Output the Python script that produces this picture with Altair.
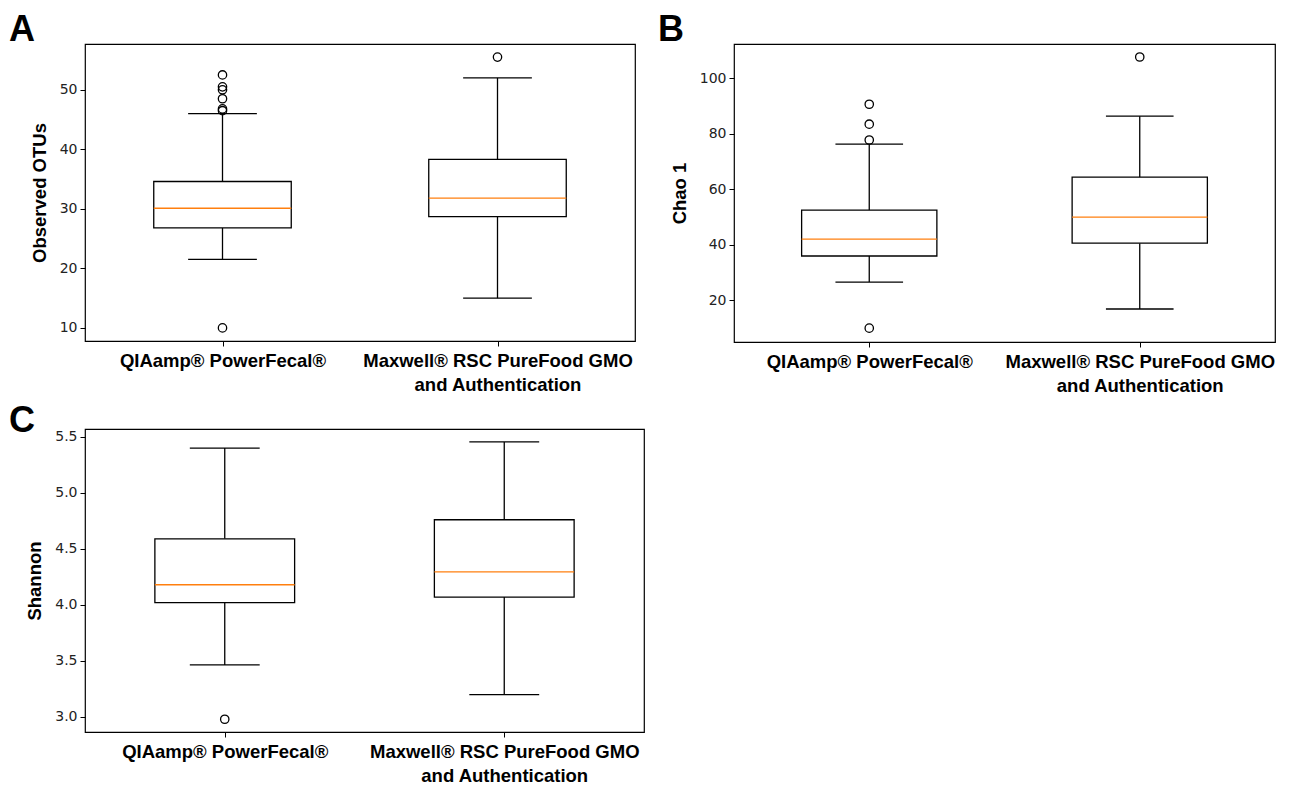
import altair as alt
import pandas as pd

groups = ["QIAamp® PowerFecal®", "Maxwell® RSC PureFood GMO and Authentication"]
positions = [1, 2]

# Panel A: Observed OTUs
otu_lo = [21.5, 15.0]
otu_q1 = [26.8, 28.7]
otu_med = [30.1, 31.8]
otu_q3 = [34.6, 38.3]
otu_hi = [46.0, 52.0]
otu_out_pos = [1, 1, 1, 1, 1, 1, 1, 2]
otu_out_val = [52.5, 50.5, 50.0, 48.5, 46.8, 46.5, 10.0, 55.5]

# Panel B: Chao 1
chao_lo = [26.5, 16.8]
chao_q1 = [35.9, 40.5]
chao_med = [42.0, 49.9]
chao_q3 = [52.4, 64.3]
chao_hi = [76.2, 86.3]
chao_out_pos = [1, 1, 1, 1, 2]
chao_out_val = [90.6, 83.4, 77.7, 9.9, 107.6]

# Panel C: Shannon
sh_lo = [3.465, 3.20]
sh_q1 = [4.02, 4.07]
sh_med = [4.18, 4.295]
sh_q3 = [4.59, 4.76]
sh_hi = [5.40, 5.455]
sh_out_pos = [1]
sh_out_val = [2.98]

LABEL_EXPR = ("datum.value == 1 ? 'QIAamp® PowerFecal®' : "
              "['Maxwell® RSC PureFood GMO', 'and Authentication']")


def panel(lo, q1, med, q3, hi, out_pos, out_val, domain, ticks, fmt, ytitle,
          letter, w, h, letter_dy, letter_dx):
    df = pd.DataFrame({"pos": positions, "lo": lo, "q1": q1, "med": med,
                       "q3": q3, "hi": hi})
    df["left"] = df["pos"] - 0.25
    df["right"] = df["pos"] + 0.25
    df["capl"] = df["pos"] - 0.125
    df["capr"] = df["pos"] + 0.125
    odf = pd.DataFrame({"pos": out_pos, "val": out_val})

    xs = alt.Scale(domain=[0.5, 2.5], nice=False, zero=False)
    ys = alt.Scale(domain=domain, nice=False, zero=False)
    xaxis = alt.Axis(values=[1, 2], labelExpr=LABEL_EXPR, title=None,
                     grid=False, domain=False, tickColor="black", tickSize=5,
                     labelFont="Liberation Sans", labelFontWeight="bold",
                     labelFontSize=18.5, labelColor="black", labelPadding=5,
                     labelLineHeight=24, labelBaseline="top", labelLimit=0)
    yaxis = alt.Axis(values=ticks, format=fmt, title=ytitle, grid=False,
                     domain=False, tickColor="black", tickSize=5,
                     labelFont="DejaVu Sans", labelFontSize=14,
                     labelColor="#222", labelPadding=3,
                     titleFont="Liberation Sans", titleFontWeight="bold",
                     titleFontSize=18.5, titleColor="black", titlePadding=10)

    def X(f):
        return alt.X(f, scale=xs, axis=xaxis, title=None)

    def Y(f):
        return alt.Y(f, scale=ys, axis=yaxis, title=ytitle)

    base = alt.Chart(df)
    whisk_lo = base.mark_rule(color="black", strokeWidth=1.3).encode(
        x=X("pos:Q"), y=Y("lo:Q"), y2="q1:Q")
    whisk_hi = base.mark_rule(color="black", strokeWidth=1.3).encode(
        x=X("pos:Q"), y=Y("q3:Q"), y2="hi:Q")
    cap_lo = base.mark_rule(color="black", strokeWidth=1.3).encode(
        x=X("capl:Q"), x2="capr:Q", y=Y("lo:Q"))
    cap_hi = base.mark_rule(color="black", strokeWidth=1.3).encode(
        x=X("capl:Q"), x2="capr:Q", y=Y("hi:Q"))
    box = base.mark_rect(fill="white", stroke="black", strokeWidth=1.3).encode(
        x=X("left:Q"), x2="right:Q", y=Y("q1:Q"), y2="q3:Q")
    median = base.mark_rule(color="#ff7f0e", strokeWidth=1.3).encode(
        x=X("left:Q"), x2="right:Q", y=Y("med:Q"))
    outl = alt.Chart(odf).mark_point(shape="circle", filled=False,
                                     color="black", size=70,
                                     strokeWidth=1.3, opacity=1).encode(
        x=X("pos:Q"), y=Y("val:Q"))
    lab = alt.Chart(pd.DataFrame({"t": [letter]})).mark_text(
        font="Liberation Sans", fontWeight="bold", fontSize=36,
        color="black", align="left", baseline="middle").encode(
        text="t:N", x=alt.value(letter_dx), y=alt.value(letter_dy))
    return alt.layer(whisk_lo, whisk_hi, cap_lo, cap_hi, box, median, outl,
                     lab).properties(width=w, height=h)


pa = panel(otu_lo, otu_q1, otu_med, otu_q3, otu_hi, otu_out_pos, otu_out_val,
           [7.8, 57.7], [10, 20, 30, 40, 50], "d", "Observed OTUs", "A",
           550, 297, -14, -76)
pb = panel(chao_lo, chao_q1, chao_med, chao_q3, chao_hi, chao_out_pos,
           chao_out_val, [4.9, 112.3], [20, 40, 60, 80, 100], "d", "Chao 1",
           "B", 541, 298, -14, -76)
pc = panel(sh_lo, sh_q1, sh_med, sh_q3, sh_hi, sh_out_pos, sh_out_val,
           [2.866, 5.57], [3.0, 3.5, 4.0, 4.5, 5.0, 5.5], ".1f", "Shannon",
           "C", 559, 303, -8, -76)

chart = alt.vconcat(
    alt.hconcat(pa, pb, spacing=21),
    pc, spacing=6
).properties(background="white",
             padding={"left": 0, "top": 3, "right": 0, "bottom": 0}
             ).configure_view(stroke="black", strokeWidth=1.2)

chart.save("out.html", embed_options={"renderer": "svg", "actions": False})
